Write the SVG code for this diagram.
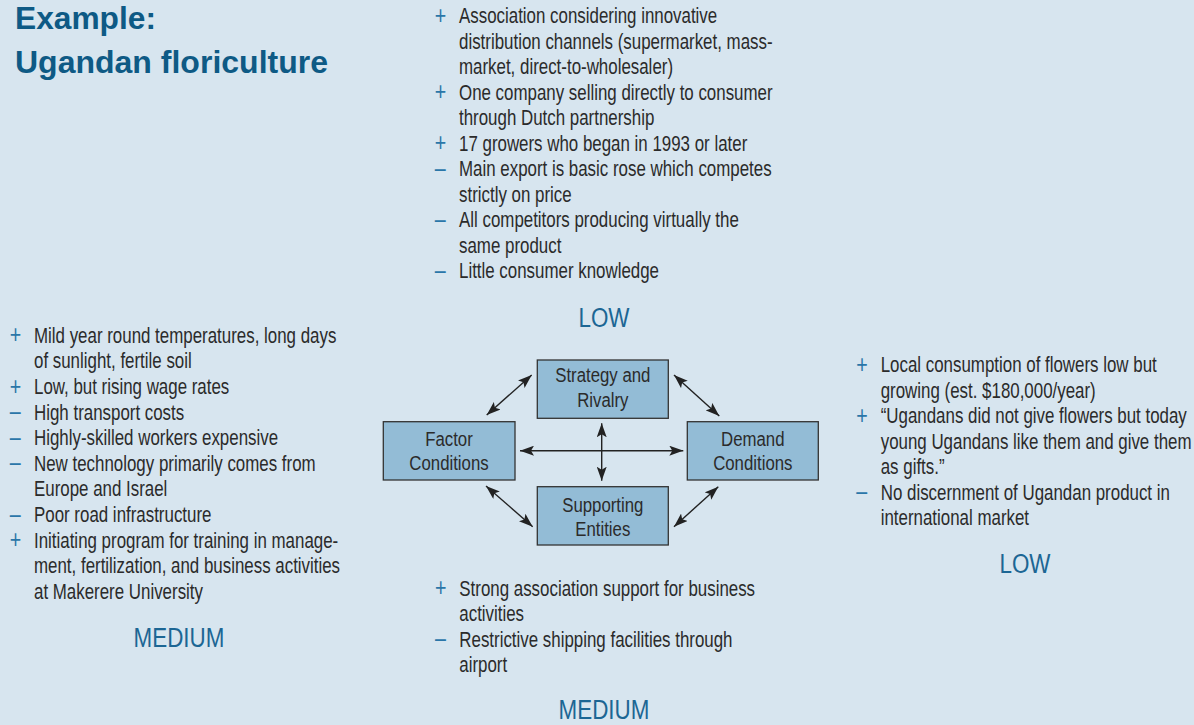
<svg xmlns="http://www.w3.org/2000/svg" width="1194" height="725" viewBox="0 0 1194 725">
<defs>
<style>
.bg{fill:#d7e5ef}
.title{font-family:"Liberation Sans",Arial,sans-serif;font-weight:bold;font-size:31px;fill:#0e5a85}
.body{font-family:"Liberation Sans",Arial,sans-serif;font-size:21.5px;fill:#2b2b2b}
.bul{font-family:"Liberation Sans",Arial,sans-serif;font-size:25px;fill:#2a76a8}
.rate{font-family:"Liberation Sans",Arial,sans-serif;font-size:28px;fill:#1c6694;text-anchor:middle}
.node rect{fill:#93bcd6;stroke:#333;stroke-width:1.3}
.ntext{font-family:"Liberation Sans",Arial,sans-serif;font-size:21px;fill:#2b2b2b;text-anchor:middle}
.conn line{stroke:#222;stroke-width:1.4;fill:none}
</style>
<marker id="ah" viewBox="0 0 14 10" refX="14" refY="5" markerWidth="14" markerHeight="10" markerUnits="userSpaceOnUse" orient="auto-start-reverse">
<path d="M0,0 L14,5 L0,10 L3,5 z" fill="#222"/>
</marker>
</defs>
<rect class="bg" x="0" y="0" width="1194" height="725"/>

<g id="title">
<text class="title" x="15" y="29" textLength="141" lengthAdjust="spacingAndGlyphs">Example:</text>
<text class="title" x="15" y="72.7" textLength="313" lengthAdjust="spacingAndGlyphs">Ugandan floriculture</text>
</g>

<g id="strategy-notes" transform="translate(459,0) scale(0.786,1)">
<text class="bul" x="-31" y="24">+</text>
<text class="body" x="0" y="23.3">Association considering innovative</text>
<text class="body" x="0" y="48.8">distribution channels (supermarket, mass-</text>
<text class="body" x="0" y="74.3">market, direct-to-wholesaler)</text>
<text class="bul" x="-31" y="100.5">+</text>
<text class="body" x="0" y="99.8">One company selling directly to consumer</text>
<text class="body" x="0" y="125.3">through Dutch partnership</text>
<text class="bul" x="-31" y="151.5">+</text>
<text class="body" x="0" y="150.8">17 growers who began in 1993 or later</text>
<text class="bul" x="-31" y="177">–</text>
<text class="body" x="0" y="176.3">Main export is basic rose which competes</text>
<text class="body" x="0" y="201.8">strictly on price</text>
<text class="bul" x="-31" y="228">–</text>
<text class="body" x="0" y="227.3">All competitors producing virtually the</text>
<text class="body" x="0" y="252.8">same product</text>
<text class="bul" x="-31" y="279">–</text>
<text class="body" x="0" y="278.3">Little consumer knowledge</text>
</g>
<g id="strategy-rating" transform="translate(604,0) scale(0.8,1)">
<text class="rate" x="0" y="327.3">LOW</text>
</g>

<g id="factor-notes" transform="translate(34,0) scale(0.786,1)">
<text class="bul" x="-31" y="343.4">+</text>
<text class="body" x="0" y="342.7">Mild year round temperatures, long days</text>
<text class="body" x="0" y="368.3">of sunlight, fertile soil</text>
<text class="bul" x="-31" y="394.7">+</text>
<text class="body" x="0" y="394">Low, but rising wage rates</text>
<text class="bul" x="-31" y="420.3">–</text>
<text class="body" x="0" y="419.6">High transport costs</text>
<text class="bul" x="-31" y="445.9">–</text>
<text class="body" x="0" y="445.2">Highly-skilled workers expensive</text>
<text class="bul" x="-31" y="471.5">–</text>
<text class="body" x="0" y="470.8">New technology primarily comes from</text>
<text class="body" x="0" y="496.4">Europe and Israel</text>
<text class="bul" x="-31" y="522.7">–</text>
<text class="body" x="0" y="522">Poor road infrastructure</text>
<text class="bul" x="-31" y="548.3">+</text>
<text class="body" x="0" y="547.6">Initiating program for training in manage-</text>
<text class="body" x="0" y="573.2">ment, fertilization, and business activities</text>
<text class="body" x="0" y="598.8">at Makerere University</text>
</g>
<g id="factor-rating" transform="translate(179,0) scale(0.8,1)">
<text class="rate" x="0" y="646.7">MEDIUM</text>
</g>

<g id="demand-notes" transform="translate(880.7,0) scale(0.786,1)">
<text class="bul" x="-31" y="373">+</text>
<text class="body" x="0" y="372.3">Local consumption of flowers low but</text>
<text class="body" x="0" y="397.8">growing (est. $180,000/year)</text>
<text class="bul" x="-31" y="424">+</text>
<text class="body" x="0" y="423.3">“Ugandans did not give flowers but today</text>
<text class="body" x="0" y="448.8">young Ugandans like them and give them</text>
<text class="body" x="0" y="474.3">as gifts.”</text>
<text class="bul" x="-31" y="500.5">–</text>
<text class="body" x="0" y="499.8">No discernment of Ugandan product in</text>
<text class="body" x="0" y="525.3">international market</text>
</g>
<g id="demand-rating" transform="translate(1025,0) scale(0.8,1)">
<text class="rate" x="0" y="573.3">LOW</text>
</g>

<g id="supporting-notes" transform="translate(459.3,0) scale(0.786,1)">
<text class="bul" x="-31" y="596.5">+</text>
<text class="body" x="0" y="595.8">Strong association support for business</text>
<text class="body" x="0" y="621.2">activities</text>
<text class="bul" x="-31" y="647.3">–</text>
<text class="body" x="0" y="646.6">Restrictive shipping facilities through</text>
<text class="body" x="0" y="672">airport</text>
</g>
<g id="supporting-rating" transform="translate(604,0) scale(0.8,1)">
<text class="rate" x="0" y="719">MEDIUM</text>
</g>

<g id="connectors" class="conn">
<line x1="520" y1="450.7" x2="683.3" y2="450.7" marker-start="url(#ah)" marker-end="url(#ah)"/>
<line x1="601.7" y1="423.3" x2="601.7" y2="480.7" marker-start="url(#ah)" marker-end="url(#ah)"/>
<line x1="531.7" y1="375" x2="486.7" y2="415" marker-start="url(#ah)" marker-end="url(#ah)"/>
<line x1="674" y1="375" x2="719.3" y2="416" marker-start="url(#ah)" marker-end="url(#ah)"/>
<line x1="486" y1="486" x2="532.7" y2="526.7" marker-start="url(#ah)" marker-end="url(#ah)"/>
<line x1="718.3" y1="486.7" x2="674" y2="526.7" marker-start="url(#ah)" marker-end="url(#ah)"/>
</g>

<g id="node-strategy" class="node">
<rect x="537.3" y="360" width="131" height="58.3"/>
<g transform="translate(602.8,0) scale(0.8,1)">
<text class="ntext" x="0" y="382.3">Strategy and</text>
<text class="ntext" x="0" y="406.7">Rivalry</text>
</g>
</g>
<g id="node-factor" class="node">
<rect x="383.3" y="421.7" width="131.7" height="58.3"/>
<g transform="translate(449,0) scale(0.8,1)">
<text class="ntext" x="0" y="445.7">Factor</text>
<text class="ntext" x="0" y="470">Conditions</text>
</g>
</g>
<g id="node-demand" class="node">
<rect x="687.3" y="421.7" width="131" height="58.3"/>
<g transform="translate(752.8,0) scale(0.8,1)">
<text class="ntext" x="0" y="445.7">Demand</text>
<text class="ntext" x="0" y="470">Conditions</text>
</g>
</g>
<g id="node-supporting" class="node">
<rect x="537.3" y="486.7" width="131" height="58.3"/>
<g transform="translate(602.8,0) scale(0.8,1)">
<text class="ntext" x="0" y="511.7">Supporting</text>
<text class="ntext" x="0" y="536">Entities</text>
</g>
</g>
</svg>
